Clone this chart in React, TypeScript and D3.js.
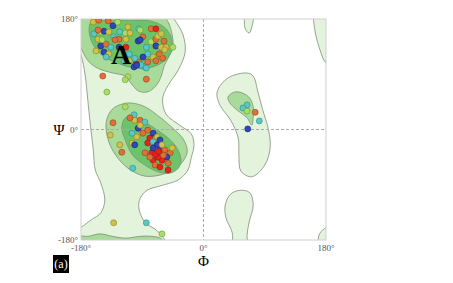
import React from "react";
import * as d3 from "d3";

// Contour regions (phi, psi in degrees)
const outerLeft: [number, number][] = [
  [-190, 190], [-49, 190], [-42, 178], [-30, 154], [-27, 126], [-37, 97], [-52, 72], [-60, 51],
  [-55, 25], [-35, 7], [-18, -7], [-14, -25], [-18, -46], [-23, -66], [-37, -82], [-64, -92],
  [-83, -99], [-93, -112], [-95, -128], [-86, -151], [-68, -165], [-57, -180], [-52, -193],
  [-190, -193], [-190, -162], [-180, -159], [-165, -147], [-151, -136], [-145, -115],
  [-151, -87], [-159, -66], [-162, -33], [-167, 15], [-170, 48], [-174, 89], [-180, 121], [-188, 138],
];
const midBeta: [number, number][] = [
  [-190, 190], [-64, 190], [-52, 175], [-46, 154], [-45, 133], [-52, 116], [-58, 103], [-62, 87],
  [-70, 71], [-83, 61], [-96, 63], [-107, 76], [-115, 87], [-133, 92], [-154, 99], [-168, 110],
  [-177, 126], [-184, 146],
];
const coreBeta: [number, number][] = [
  [-165, 175], [-142, 178], [-108, 178], [-79, 177], [-58, 167], [-48, 152], [-46, 134], [-52, 118],
  [-64, 107], [-82, 100], [-101, 100], [-126, 108], [-148, 120], [-162, 138], [-168, 159],
];
const midAlpha: [number, number][] = [
  [-118, 42], [-134, 33], [-143, 12], [-140, -17], [-129, -42], [-111, -63], [-86, -76], [-57, -72],
  [-35, -58], [-24, -37], [-29, -17], [-45, 2], [-64, 20], [-86, 37], [-105, 43],
];
const coreAlpha: [number, number][] = [
  [-115, 19], [-101, 20], [-86, 12], [-68, -1], [-52, -14], [-39, -30], [-33, -50], [-37, -63],
  [-49, -71], [-67, -69], [-86, -58], [-104, -42], [-115, -17], [-120, 2],
];
const midBottom: [number, number][] = [
  [-190, -174], [-170, -174], [-152, -170], [-134, -174], [-114, -177], [-93, -174], [-76, -174],
  [-62, -178], [-57, -192], [-190, -192],
];
const outerAlphaL: [number, number][] = [
  [64, 92], [73, 87], [80, 61], [87, 32], [95, 2], [98, -29], [90, -58], [71, -77], [55, -68],
  [52, -42], [51, -14], [40, 15], [24, 40], [20, 61], [36, 84],
];
const midAlphaL: [number, number][] = [
  [36, 53], [46, 61], [58, 59], [68, 51], [73, 37], [73, 20], [71, 7], [64, 19], [49, 32], [39, 43],
];
const outerLow: [number, number][] = [
  [54, -99], [68, -103], [73, -123], [67, -151], [64, -172], [64, -195], [45, -195], [42, -167],
  [33, -144], [32, -123], [40, -105],
];
const outerTopLobe: [number, number][] = [
  [58, 193], [73, 193], [71, 167], [67, 157], [61, 165], [60, 178],
];
const outerRightStrip: [number, number][] = [
  [162, 193], [190, 193], [190, 103], [180, 108], [171, 130], [165, 154], [162, 175],
];
const outerCorner: [number, number][] = [
  [168, -182], [171, -169], [180, -160], [190, -157], [190, -195], [165, -195],
];

// Residues: phi, psi, colour class
const residues: [number, number, string][] = [
  [-162, 175, "Y"], [-154, 178, "O"], [-140, 177, "O"], [-133, 169, "B"], [-126, 175, "G"],
  [-111, 167, "Y"], [-95, 164, "C"], [-77, 164, "O"], [-70, 164, "R"], [-161, 156, "C"],
  [-151, 159, "G"], [-146, 160, "B"], [-139, 159, "Y"], [-132, 151, "C"], [-124, 147, "O"],
  [-114, 147, "Y"], [-155, 147, "Y"], [-151, 136, "B"], [-143, 139, "O"], [-136, 134, "C"],
  [-146, 126, "B"], [-139, 123, "Y"], [-158, 128, "Y"], [-143, 118, "C"], [-124, 134, "B"],
  [-114, 134, "R"], [-109, 123, "C"], [-96, 144, "B"], [-89, 151, "O"], [-84, 134, "C"],
  [-77, 143, "G"], [-70, 147, "O"], [-67, 152, "Y"], [-62, 156, "Y"], [-58, 144, "O"],
  [-70, 136, "B"], [-62, 134, "Y"], [-55, 134, "Y"], [-45, 134, "G"], [-82, 123, "C"],
  [-74, 118, "Y"], [-65, 123, "O"], [-60, 118, "Y"], [-70, 112, "O"], [-89, 118, "B"],
  [-95, 110, "O"], [-102, 102, "B"], [-87, 102, "C"], [-109, 112, "Y"], [-117, 110, "C"],
  [-99, 107, "R"], [-82, 110, "O"], [-92, 105, "C"], [-155, 162, "O"], [-115, 157, "G"],
  [-108, 157, "Y"], [-93, 162, "G"], [-149, 146, "G"], [-130, 146, "O"], [-93, 146, "B"],
  [-57, 130, "Y"], [-60, 116, "O"], [-101, 116, "C"], [-98, 105, "B"], [-123, 159, "C"],
  [-148, 87, "O"], [-111, 86, "G"], [-115, 81, "G"], [-84, 82, "O"], [-142, 61, "G"],
  [-115, 37, "G"], [-84, 100, "C"],
  [-102, 24, "C"], [-101, 15, "Y"], [-93, 15, "O"], [-108, 19, "O"], [-86, 12, "C"],
  [-133, 11, "O"], [-137, -9, "Y"], [-123, -25, "Y"], [-120, -37, "O"], [-105, -6, "C"],
  [-96, 2, "B"], [-89, -6, "O"], [-98, -12, "Y"], [-79, -14, "R"], [-74, -6, "B"],
  [-68, -12, "Y"], [-82, -22, "R"], [-105, -22, "Y"], [-101, -25, "B"], [-74, -20, "C"],
  [-68, -25, "B"], [-86, -38, "O"], [-76, -38, "R"], [-64, -33, "B"], [-57, -33, "O"],
  [-49, -38, "O"], [-46, -30, "Y"], [-54, -45, "B"], [-61, -50, "R"], [-52, -55, "O"],
  [-74, -50, "R"], [-71, -58, "O"], [-64, -61, "R"], [-104, -63, "C"], [-74, -30, "B"],
  [-67, -45, "R"], [-59, -42, "O"], [-93, 7, "Y"], [-82, -1, "O"], [-64, -17, "B"],
  [-52, -66, "R"], [-79, -45, "O"], [-61, -25, "Y"], [-70, -40, "R"], [-66, -36, "R"],
  [-132, -152, "Y"], [-84, -152, "C"], [-61, -170, "G"],
  [64, 40, "C"], [58, 35, "C"], [64, 30, "G"], [76, 28, "O"], [82, 14, "C"], [65, 1, "B"],
];

const palette: Record<string, [string, string]> = {
  R: ["#e8231e", "#a01010"],
  O: ["#e0703a", "#9a4010"],
  Y: ["#cfc24a", "#8a7d20"],
  G: ["#a9dc6a", "#6a9a30"],
  C: ["#5cc8c4", "#2a8a88"],
  B: ["#2f48b8", "#142070"],
};

const xTicks = [-180, 0, 180];
const yTicks = [-180, 0, 180];

const LIGHT = "#e4f4dc";
const MID = "#a8da9a";
const DARK = "#6cc46a";
const EDGE = "#7f8f76";

export default function App() {
  const x = d3.scaleLinear().domain([-180, 180]).range([81, 326]);
  const y = d3.scaleLinear().domain([-180, 180]).range([240, 19]);
  const line = d3
    .line<[number, number]>()
    .x((d) => x(d[0]))
    .y((d) => y(d[1]))
    .curve(d3.curveCatmullRomClosed.alpha(0.5));

  const regions: { pts: [number, number][]; fill: string }[] = [
    { pts: outerLeft, fill: LIGHT },
    { pts: outerAlphaL, fill: LIGHT },
    { pts: outerLow, fill: LIGHT },
    { pts: outerTopLobe, fill: LIGHT },
    { pts: outerRightStrip, fill: LIGHT },
    { pts: outerCorner, fill: LIGHT },
    { pts: midBeta, fill: MID },
    { pts: midAlpha, fill: MID },
    { pts: midBottom, fill: MID },
    { pts: midAlphaL, fill: MID },
    { pts: coreBeta, fill: DARK },
    { pts: coreAlpha, fill: DARK },
  ];

  const serif = "'Liberation Serif', 'DejaVu Serif', serif";

  return (
    <svg
      width={453}
      height={283}
      style={{ position: "absolute", left: 0, top: 0, background: "#fff" }}
    >
      <defs>
        <clipPath id="plotClip">
          <rect x={x(-180)} y={y(180)} width={x(180) - x(-180)} height={y(-180) - y(180)} />
        </clipPath>
      </defs>
      <g clipPath="url(#plotClip)">
        {regions.map((r, i) => (
          <path key={i} d={line(r.pts) || ""} fill={r.fill} stroke={EDGE} strokeWidth={0.8} />
        ))}
      </g>
      {/* zero lines */}
      <line x1={x(0)} x2={x(0)} y1={y(180)} y2={y(-180)} stroke="#aaa" strokeDasharray="3,2" strokeWidth={1} />
      <line x1={x(-180)} x2={x(180)} y1={y(0)} y2={y(0)} stroke="#aaa" strokeDasharray="3,2" strokeWidth={1} />
      {/* frame */}
      <rect
        x={x(-180)}
        y={y(180)}
        width={x(180) - x(-180)}
        height={y(-180) - y(180)}
        fill="none"
        stroke="#cfcfcf"
        strokeWidth={1}
      />
      {/* residues */}
      <g clipPath="url(#plotClip)">
        {residues.map((d, i) => (
          <circle
            key={i}
            cx={x(d[0])}
            cy={y(d[1])}
            r={3}
            fill={palette[d[2]][0]}
            stroke={palette[d[2]][1]}
            strokeWidth={0.6}
          />
        ))}
      </g>
      {/* region label */}
      <text x={x(-121)} y={y(106)} fontFamily={serif} fontWeight="bold" fontSize={28} textAnchor="middle" fill="#000">
        A
      </text>
      {/* y tick labels */}
      {yTicks.map((t) => (
        <text key={"y" + t} x={78} y={y(t) + 3} fontFamily={serif} fontSize={9} textAnchor="end" fill="#555">
          {t + "°"}
        </text>
      ))}
      {/* x tick labels */}
      {xTicks.map((t) => (
        <text key={"x" + t} x={x(t)} y={251} fontFamily={serif} fontSize={9} textAnchor="middle" fill="#555">
          {t + "°"}
        </text>
      ))}
      <text x={59} y={y(0) + 5} fontFamily={serif} fontSize={15} textAnchor="middle" fill="#000">
        Ψ
      </text>
      <text x={x(0)} y={266} fontFamily={serif} fontSize={15} textAnchor="middle" fill="#000">
        Φ
      </text>
      <rect x={53} y={255} width={16} height={18} fill="#000" />
      <text x={61} y={268} fontFamily={serif} fontSize={12} textAnchor="middle" fill="#fff">
        (a)
      </text>
    </svg>
  );
}
